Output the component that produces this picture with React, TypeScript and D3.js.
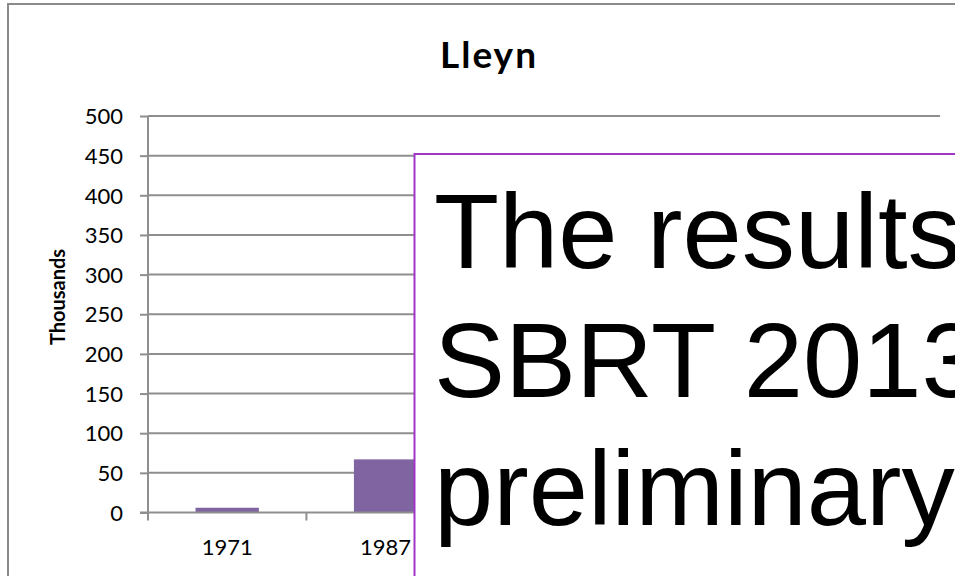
import React, { useRef, useEffect } from "react";
import * as d3 from "d3";

// survey years; the last three sit behind the overlay box in the original
const years = ["1971", "1987", "2003", "2012", "2013"];
const sheepThousands = [6, 67, 250, 400, 420];
const yTicks = [0, 50, 100, 150, 200, 250, 300, 350, 400, 450, 500];
const overlayLines = ["The results", "SBRT 2013", "preliminary"];

const App = () => {
  const svgRef = useRef<SVGSVGElement>(null);

  useEffect(() => {
    const w = 955;
    const h = 576;
    const margin = { top: 116, right: 15, bottom: 63.5, left: 148 };
    const boxX = 414.5;
    const svg = d3.select(svgRef.current).attr("width", w).attr("height", h);
    svg.selectAll("*").remove();

    // outer chart frame
    svg
      .append("rect")
      .attr("x", 8)
      .attr("y", 4)
      .attr("width", w)
      .attr("height", h)
      .attr("fill", "#fff")
      .attr("stroke", "#8a8a8a")
      .attr("stroke-width", 2);

    const x = d3
      .scaleBand()
      .domain(years)
      .range([margin.left, w - margin.right])
      .paddingInner(0.6)
      .paddingOuter(0.3);

    const band = d3.scaleBand().domain(years).range([margin.left, w - margin.right]);

    const y = d3
      .scaleLinear()
      .domain([0, 500])
      .range([h - margin.bottom, margin.top]);

    // gridlines
    svg
      .append("g")
      .selectAll("line")
      .data(yTicks.slice(1))
      .enter()
      .append("line")
      .attr("x1", margin.left)
      .attr("x2", w - margin.right)
      .attr("y1", (d) => y(d))
      .attr("y2", (d) => y(d))
      .attr("stroke", "#8e8e8e")
      .attr("stroke-width", 2);

    // bars
    svg
      .append("g")
      .selectAll("rect")
      .data(years)
      .enter()
      .append("rect")
      .attr("x", (d) => x(d)!)
      .attr("y", (d, i) => y(sheepThousands[i]))
      .attr("width", x.bandwidth())
      .attr("height", (d, i) => y(0) - y(sheepThousands[i]))
      .attr("fill", "#8064a2");

    // y axis
    const yAxis = d3.axisLeft(y).tickValues(yTicks).tickSize(8).tickPadding(17);
    const gy = svg
      .append("g")
      .attr("transform", `translate(${margin.left},0)`)
      .call(yAxis);
    gy.select(".domain").attr("stroke", "#8e8e8e").attr("stroke-width", 2).attr("d", `M0,${y(500)}V${y(0)}`);
    gy.selectAll(".tick line").attr("stroke", "#8e8e8e").attr("stroke-width", 2);
    gy.selectAll(".tick text")
      .attr("font-family", "Lato, sans-serif")
      .attr("font-size", 22)
      .attr("fill", "#000")
      .attr("dy", "0.35em");

    // x axis: ticks on band boundaries
    const gx = svg.append("g");
    gx.append("line")
      .attr("x1", margin.left - 8)
      .attr("x2", w - margin.right)
      .attr("y1", y(0))
      .attr("y2", y(0))
      .attr("stroke", "#8e8e8e")
      .attr("stroke-width", 2);
    gx.selectAll(".xt")
      .data(years.concat(["end"]))
      .enter()
      .append("line")
      .attr("x1", (d, i) => margin.left + i * band.bandwidth())
      .attr("x2", (d, i) => margin.left + i * band.bandwidth())
      .attr("y1", y(0))
      .attr("y2", y(0) + 8)
      .attr("stroke", "#8e8e8e")
      .attr("stroke-width", 2);
    // labels hidden under the overlay box are skipped
    gx.selectAll("text")
      .data(years.filter((d) => band(d)! + band.bandwidth() / 2 < boxX))
      .enter()
      .append("text")
      .attr("x", (d) => band(d)! + band.bandwidth() / 2)
      .attr("y", 555)
      .attr("text-anchor", "middle")
      .attr("font-family", "Lato, sans-serif")
      .attr("font-size", 22)
      .text((d) => d);

    // title
    svg
      .append("text")
      .attr("x", 489)
      .attr("y", 68)
      .attr("text-anchor", "middle")
      .attr("font-family", "Lato, sans-serif")
      .attr("font-weight", "bold")
      .attr("font-size", 37)
      .attr("letter-spacing", 2)
      .text("Lleyn");

    // y axis title
    svg
      .append("text")
      .attr("transform", `translate(65,297) rotate(-90)`)
      .attr("text-anchor", "middle")
      .attr("font-family", "Lato, sans-serif")
      .attr("font-weight", "bold")
      .attr("font-size", 20)
      .text("Thousands");

    // overlay text box
    const box = svg.append("g");
    box
      .append("rect")
      .attr("x", boxX)
      .attr("y", 154)
      .attr("width", 700)
      .attr("height", 600)
      .attr("fill", "#fff")
      .attr("stroke", "#a035c8")
      .attr("stroke-width", 2);
    box
      .selectAll("text")
      .data(overlayLines)
      .enter()
      .append("text")
      .attr("x", 434)
      .attr("y", (d, i) => 268 + i * 128.5)
      .attr("font-family", "Liberation Sans, Arial, sans-serif")
      .attr("font-size", 106.5)
      .attr("fill", "#000")
      .text((d) => d);
  }, []);

  return (
    <div style={{ position: "fixed", left: 0, top: 0 }}>
      <svg ref={svgRef} style={{ display: "block" }}></svg>
    </div>
  );
};

export default App;
